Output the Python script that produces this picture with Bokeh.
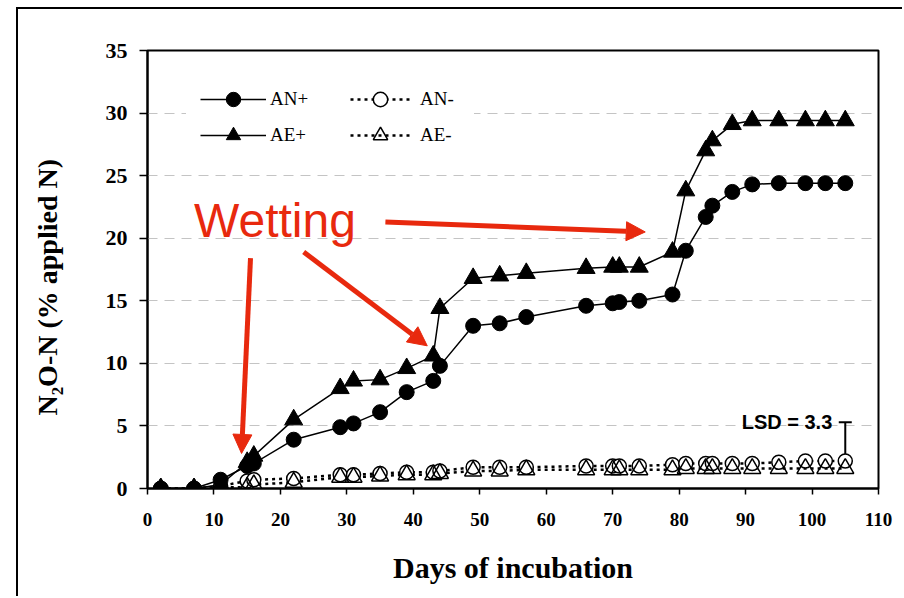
from bokeh.plotting import figure
from bokeh.models import (Legend, LegendItem, Label, Arrow, NormalHead, FixedTicker,
                          Range1d, Title)
from bokeh.embed import file_html
from bokeh.resources import INLINE

# ---- data ----
days = [2, 7, 11, 15, 16, 22, 29, 31, 35, 39, 43, 44, 49, 53, 57,
        66, 70, 71, 74, 79, 81, 84, 85, 88, 91, 95, 99, 102, 105]
an_plus = [0, 0, 0.7, 1.8, 2.0, 3.9, 4.9, 5.2, 6.1, 7.7, 8.6, 9.8, 13.0, 13.2, 13.7,
           14.6, 14.8, 14.9, 15.0, 15.5, 19.0, 21.7, 22.6, 23.7, 24.3, 24.4, 24.4, 24.4, 24.4]
ae_plus = [0, 0, 0.3, 2.1, 2.6, 5.5, 8.0, 8.6, 8.7, 9.6, 10.6, 14.4, 16.8, 17.0, 17.2,
           17.6, 17.7, 17.7, 17.7, 18.9, 23.8, 27.0, 27.8, 29.1, 29.4, 29.4, 29.4, 29.4, 29.4]
an_minus = [0, 0, 0.2, 0.6, 0.7, 0.8, 1.1, 1.1, 1.2, 1.3, 1.3, 1.4, 1.7, 1.7, 1.7,
            1.8, 1.8, 1.8, 1.8, 1.9, 2.0, 2.0, 2.0, 2.0, 2.0, 2.1, 2.2, 2.2, 2.2]
ae_minus = [0, 0, 0.1, 0.1, 0.3, 0.5, 0.9, 0.9, 1.0, 1.1, 1.1, 1.2, 1.4, 1.4, 1.5,
            1.5, 1.5, 1.5, 1.5, 1.5, 1.6, 1.6, 1.6, 1.6, 1.6, 1.6, 1.6, 1.6, 1.6]
x_ticks = [0, 10, 20, 30, 40, 50, 60, 70, 80, 90, 100, 110]
y_ticks = [0, 5, 10, 15, 20, 25, 30, 35]
lsd_day = 105
lsd_base = 2.0
lsd_value = 3.3

RED = "#E8290E"
SERIF = "Liberation Serif"
SANS = "Liberation Sans"

p = figure(width=886, height=589, x_range=Range1d(0, 110), y_range=Range1d(0, 35),
           output_backend="svg", toolbar_location=None,
           min_border_left=129, min_border_right=26, min_border_top=41, min_border_bottom=110)
p.margin = (7, 0, 0, 16)
p.styles = {"border-left": "2px solid black", "border-top": "2px solid black"}
p.background_fill_color = "white"
p.border_fill_color = "white"
p.outline_line_color = "black"
p.outline_line_width = 2

# grid
p.xgrid.visible = False
p.ygrid.ticker = FixedTicker(ticks=y_ticks)
p.ygrid.grid_line_color = "#c4c4c4"
p.ygrid.grid_line_dash = "10 7"
p.ygrid.grid_line_width = 1

# axes
p.xaxis.ticker = FixedTicker(ticks=x_ticks)
p.yaxis.ticker = FixedTicker(ticks=y_ticks)
p.axis.minor_tick_line_color = None
p.axis.major_tick_in = 0
p.xaxis.major_tick_out = 6
p.yaxis.major_tick_out = 8
p.axis.axis_line_width = 2
p.axis.axis_line_color = "black"
p.axis.major_tick_line_width = 1.5
p.axis.major_tick_line_color = "black"
p.axis.major_label_text_font = SERIF
p.axis.major_label_text_font_style = "bold"
p.axis.major_label_text_color = "black"
p.xaxis.major_label_text_font_size = "19px"
p.yaxis.major_label_text_font_size = "22px"
p.xaxis.major_label_standoff = 18
p.yaxis.major_label_standoff = 12
p.xaxis.axis_label = "Days of incubation"
p.xaxis.axis_label_text_font = SERIF
p.xaxis.axis_label_text_font_style = "bold"
p.xaxis.axis_label_text_color = "black"
p.xaxis.axis_label_text_font_size = "30px"
p.xaxis.axis_label_standoff = 22

# y-axis title as a side title (second blank line pushes it outwards)
p.add_layout(Title(text="N\u2082O-N (% applied N)\n\u00a0", align="left", offset=73, standoff=18,
                   text_font=SERIF, text_font_style="bold", text_font_size="28px",
                   text_color="black"), "left")

# lines
l_anp = p.line(days, an_plus, line_color="black", line_width=1.5)
l_aep = p.line(days, ae_plus, line_color="black", line_width=1.5)
l_anm = p.line(days, an_minus, line_color="black", line_width=2.5, line_dash="3 4")
l_aem = p.line(days, ae_minus, line_color="black", line_width=2.5, line_dash="3 4")

# LSD bar
p.segment(x0=[lsd_day], y0=[lsd_base], x1=[lsd_day], y1=[lsd_base + lsd_value],
          line_color="black", line_width=2)
p.scatter(x=[lsd_day], y=[lsd_base + lsd_value], marker="dash", size=13,
          line_color="black", line_width=2)
p.add_layout(Label(x=lsd_day, y=lsd_base + lsd_value, x_offset=-13, text="LSD = 3.3",
                   text_align="right", text_baseline="middle", text_font=SANS,
                   text_font_style="bold", text_font_size="20px", text_color="black"))

# markers
m_anm = p.scatter(days, an_minus, marker="circle", size=14, fill_color="white",
                  line_color="black", line_width=1.5)
m_aem = p.scatter(days, ae_minus, marker="triangle", size=17, fill_alpha=0,
                  line_color="black", line_width=1.5)
m_anp = p.scatter(days, an_plus, marker="circle", size=15, fill_color="black", line_color="black")
m_aep = p.scatter(days, ae_plus, marker="triangle", size=18, fill_color="black", line_color="black")

# legends (two columns)
def make_legend(items, loc, gw, standoff, lw):
    return Legend(items=items, location=loc, orientation="vertical",
                  padding=14, spacing=-5, margin=0, glyph_width=gw, glyph_height=36,
                  label_height=36, label_width=lw, label_standoff=standoff,
                  label_text_font=SERIF, label_text_font_size="19px", label_text_color="black",
                  background_fill_color="white", background_fill_alpha=1,
                  border_line_alpha=0)

leg1 = make_legend([LegendItem(label="AN+", renderers=[l_anp, m_anp]),
                    LegendItem(label="AE+", renderers=[l_aep, m_aep])], (39, 321), 66, 4, 60)
leg2 = make_legend([LegendItem(label="AN-", renderers=[l_anm, m_anm]),
                    LegendItem(label="AE-", renderers=[l_aem, m_aem])], (189, 321), 60, 10, 40)
p.add_layout(leg1, "center")
p.add_layout(leg2, "center")

# "Wetting" annotation and arrows
p.add_layout(Label(x=7.0, y=21.4, text="Wetting", text_font=SANS, text_font_size="48px",
                   text_color=RED, text_baseline="alphabetic", text_align="left"))
arrows = [((15.5, 18.4), (14.15, 2.8)),
          ((23.5, 18.9), (42.1, 11.4)),
          ((35.8, 21.3), (74.9, 20.5))]
for (xs, ys), (xe, ye) in arrows:
    p.add_layout(Arrow(x_start=xs, y_start=ys, x_end=xe, y_end=ye,
                       line_color=RED, line_width=5,
                       end=NormalHead(size=19, fill_color=RED, line_color=RED, line_width=1)))

open("out.html", "w").write(file_html(p, INLINE))
